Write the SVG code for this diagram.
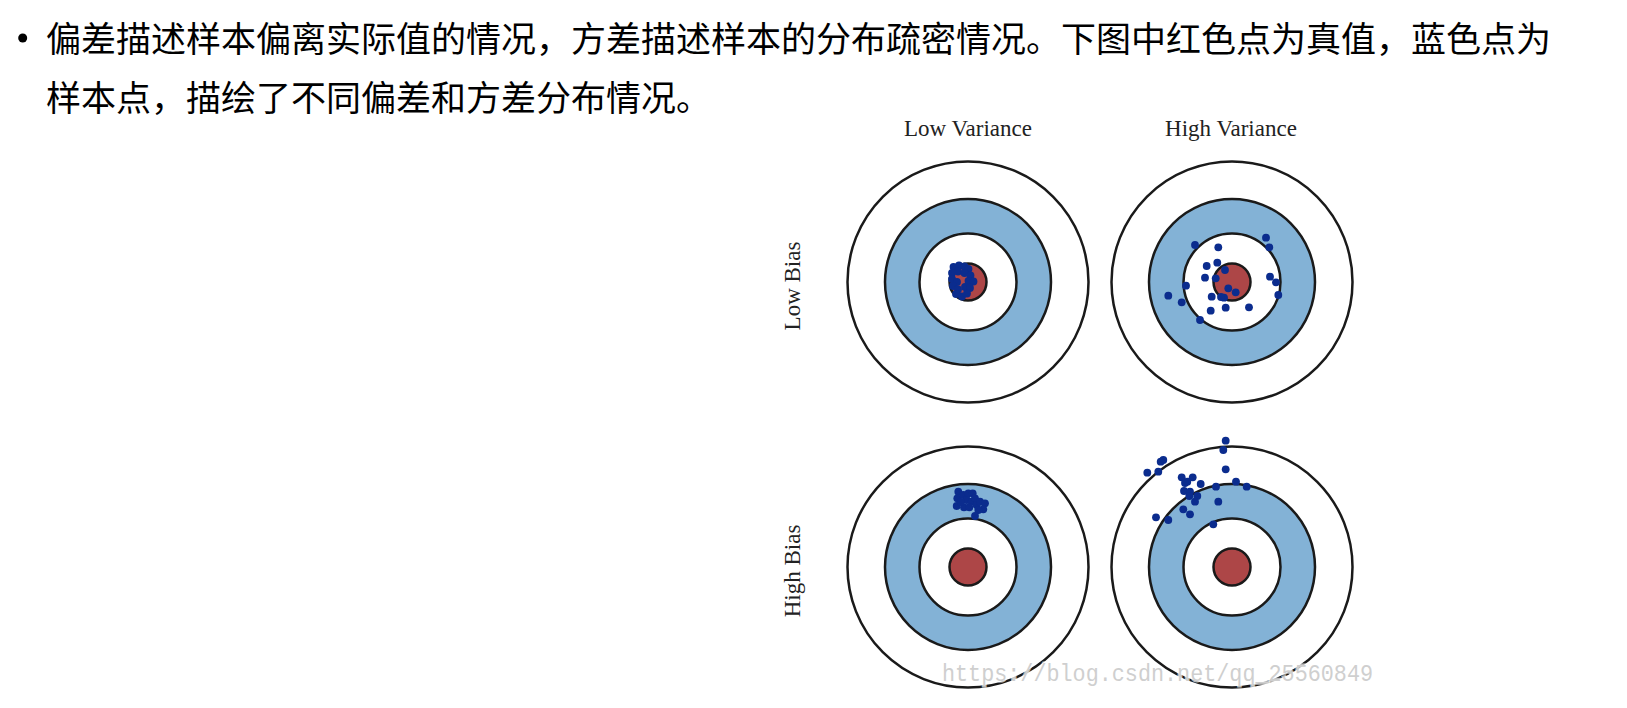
<svg xmlns="http://www.w3.org/2000/svg" width="1627" height="708" viewBox="0 0 1627 708">
<style>
.cn{font-family:"Noto Sans CJK SC","Noto Sans",sans-serif;font-size:35px;fill:#000}
.lbl{font-family:"Liberation Serif","Times New Roman",serif;font-size:23px;fill:#222;text-anchor:middle}
.ring{stroke:#1a1a1a;stroke-width:2.5}
.o{fill:#fff}
.b{fill:#83b2d6}
.w{fill:#fff}
.r{fill:#ad4647}
.d circle{fill:#0b2c8e;r:3.9px}
.wm{font-family:"Liberation Mono","DejaVu Sans Mono",monospace;font-size:24px;fill:#cfcfcf;stroke:#fff;stroke-width:3;stroke-opacity:0.7;paint-order:stroke}
</style>
<defs>
<g id="target">
<circle class="ring o" r="120.5"/>
<circle class="ring b" r="83"/>
<circle class="ring w" r="48.5"/>
<circle class="ring r" r="18.5"/>
</g>
</defs>
<rect width="1627" height="708" fill="#fff"/>
<g id="intro">
<circle cx="22.7" cy="38" r="4.5" fill="#000"/>
<text class="cn" x="46" y="51.5">偏差描述样本偏离实际值的情况，方差描述样本的分布疏密情况。下图中红色点为真值，蓝色点为</text>
<text class="cn" x="46" y="110.5">样本点，描绘了不同偏差和方差分布情况。</text>
</g>
<g id="labels">
<text class="lbl" x="968" y="136">Low Variance</text>
<text class="lbl" x="1231" y="136">High Variance</text>
<text class="lbl" transform="translate(799.5,286) rotate(-90)">Low Bias</text>
<text class="lbl" transform="translate(799.5,571) rotate(-90)">High Bias</text>
</g>
<g id="low-bias-low-variance">
<use href="#target" x="968" y="282"/>
<g class="d">
<circle cx="953.5" cy="267" r="3.9"/><circle cx="959" cy="265.5" r="3.9"/><circle cx="964.5" cy="266.5" r="3.9"/><circle cx="968.5" cy="269" r="3.9"/>
<circle cx="952" cy="273" r="3.9"/><circle cx="958" cy="271.5" r="3.9"/><circle cx="964.5" cy="273" r="3.9"/><circle cx="970.5" cy="275.5" r="3.9"/>
<circle cx="952" cy="279" r="3.9"/><circle cx="957" cy="282" r="3.9"/><circle cx="968.5" cy="281" r="3.9"/><circle cx="973.5" cy="281.5" r="3.9"/>
<circle cx="953" cy="286" r="3.9"/><circle cx="958" cy="289.5" r="3.9"/><circle cx="965" cy="287" r="3.9"/><circle cx="970" cy="288" r="3.9"/>
<circle cx="956" cy="294" r="3.9"/><circle cx="962" cy="296.5" r="3.9"/><circle cx="967" cy="293.5" r="3.9"/>
</g>
</g>
<g id="low-bias-high-variance">
<use href="#target" x="1232" y="282"/>
<g class="d">
<circle cx="1195" cy="245" r="3.9"/><circle cx="1218.3" cy="247.3" r="3.9"/><circle cx="1266" cy="237.7" r="3.9"/><circle cx="1269.3" cy="247.3" r="3.9"/>
<circle cx="1206.7" cy="266" r="3.9"/><circle cx="1217.3" cy="262.7" r="3.9"/><circle cx="1225" cy="270" r="3.9"/><circle cx="1205" cy="277.7" r="3.9"/>
<circle cx="1215.7" cy="278.3" r="3.9"/><circle cx="1186" cy="285.7" r="3.9"/><circle cx="1270" cy="276.7" r="3.9"/><circle cx="1276" cy="282.3" r="3.9"/>
<circle cx="1168.3" cy="295.7" r="3.9"/><circle cx="1181.7" cy="302.3" r="3.9"/><circle cx="1211.7" cy="296.7" r="3.9"/><circle cx="1224" cy="297.7" r="3.9"/>
<circle cx="1228.3" cy="288.3" r="3.9"/><circle cx="1235.7" cy="292.3" r="3.9"/><circle cx="1278.3" cy="295" r="3.9"/><circle cx="1210.7" cy="310.7" r="3.9"/>
<circle cx="1225.7" cy="307.7" r="3.9"/><circle cx="1249" cy="307.3" r="3.9"/><circle cx="1200" cy="320" r="3.9"/><circle cx="1221" cy="297" r="3.9"/>
</g>
</g>
<g id="high-bias-low-variance">
<use href="#target" x="968" y="567"/>
<g class="d">
<circle cx="958.3" cy="491.7" r="3.9"/><circle cx="957.3" cy="498.3" r="3.9"/><circle cx="956.7" cy="506" r="3.9"/><circle cx="963.3" cy="495" r="3.9"/>
<circle cx="968.3" cy="493.3" r="3.9"/><circle cx="972.7" cy="493.3" r="3.9"/><circle cx="966.7" cy="500" r="3.9"/><circle cx="971.7" cy="501.7" r="3.9"/>
<circle cx="975" cy="498.3" r="3.9"/><circle cx="976.7" cy="505" r="3.9"/><circle cx="980" cy="501.7" r="3.9"/><circle cx="985" cy="503.3" r="3.9"/>
<circle cx="983.3" cy="509.3" r="3.9"/><circle cx="978.3" cy="510" r="3.9"/><circle cx="975" cy="516" r="3.9"/><circle cx="964" cy="507.3" r="3.9"/>
<circle cx="969.3" cy="507.3" r="3.9"/><circle cx="961" cy="502" r="3.9"/>
</g>
</g>
<g id="high-bias-high-variance">
<use href="#target" x="1232" y="567"/>
<g class="d">
<circle cx="1225.7" cy="440.7" r="3.9"/><circle cx="1223.3" cy="450" r="3.9"/><circle cx="1163.3" cy="460" r="3.9"/><circle cx="1160.7" cy="461.7" r="3.9"/>
<circle cx="1147.3" cy="472.7" r="3.9"/><circle cx="1158.3" cy="471.7" r="3.9"/><circle cx="1225.7" cy="469.3" r="3.9"/><circle cx="1181.7" cy="477.3" r="3.9"/>
<circle cx="1187.3" cy="481.7" r="3.9"/><circle cx="1192.7" cy="477.3" r="3.9"/><circle cx="1200.7" cy="484" r="3.9"/><circle cx="1216" cy="486.7" r="3.9"/>
<circle cx="1236" cy="481.7" r="3.9"/><circle cx="1246.7" cy="486.7" r="3.9"/><circle cx="1184" cy="491" r="3.9"/><circle cx="1190" cy="491.7" r="3.9"/>
<circle cx="1189.3" cy="496" r="3.9"/><circle cx="1197.3" cy="496" r="3.9"/><circle cx="1195" cy="501.7" r="3.9"/><circle cx="1218.3" cy="501.7" r="3.9"/>
<circle cx="1183.3" cy="509.3" r="3.9"/><circle cx="1190" cy="514.3" r="3.9"/><circle cx="1156" cy="517.3" r="3.9"/><circle cx="1168.3" cy="520" r="3.9"/>
<circle cx="1213.3" cy="524.3" r="3.9"/><circle cx="1185" cy="483" r="3.9"/>
</g>
</g>
<text class="wm" x="942" y="681" textLength="431" lengthAdjust="spacingAndGlyphs">https://blog.csdn.net/qq_25560849</text>
</svg>
